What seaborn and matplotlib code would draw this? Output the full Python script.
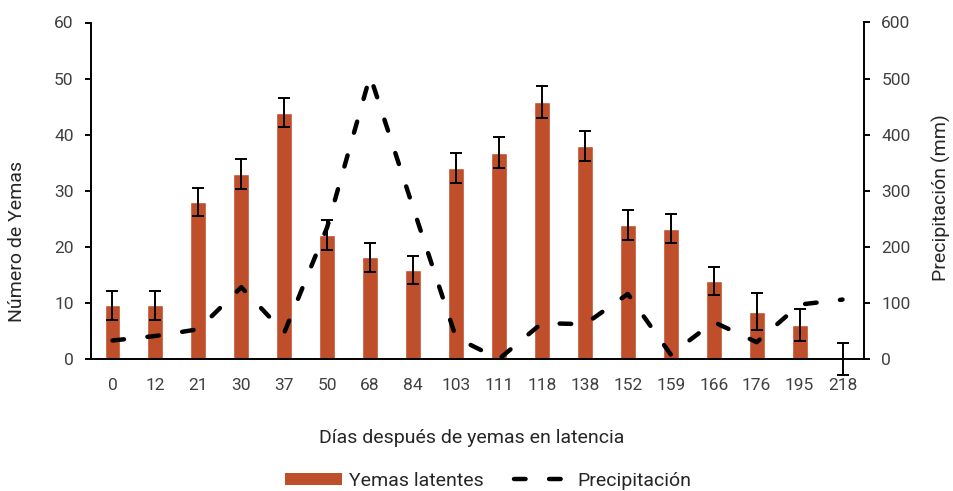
import numpy as np
import pandas as pd
import matplotlib
matplotlib.use("Agg")
import matplotlib.pyplot as plt
from matplotlib.patches import Patch
from matplotlib.lines import Line2D
import seaborn as sns

sns.set_style("white")
plt.rcParams['font.family'] = ['Roboto', 'DejaVu Sans']

# data
dias = ["0", "12", "21", "30", "37", "50", "68", "84", "103", "111",
        "118", "138", "152", "159", "166", "176", "195", "218"]
yemas = [9.6, 9.6, 28.0, 33.0, 43.9, 22.1, 18.1, 15.8, 34.1, 36.8,
         45.8, 38.0, 23.9, 23.2, 13.9, 8.4, 6.1, 0.0]
error = [2.6, 2.6, 2.5, 2.7, 2.6, 2.6, 2.5, 2.5, 2.7, 2.7,
         2.8, 2.7, 2.6, 2.6, 2.5, 3.3, 2.9, 2.8]
precip = [33, 41, 53, 128, 47, 235, 505, 270, 38, 0,
          64, 62, 116, 8, 66, 30, 97, 106]

bar_color = "#BF4F2A"
txt = "#262626"
tick_txt = "#404040"

df = pd.DataFrame({"dias": dias, "yemas": yemas, "error": error, "precip": precip})
df["pos"] = np.arange(len(df))

fig, ax = plt.subplots(figsize=(9.54, 4.91), dpi=100)
fig.subplots_adjust(left=91/954, right=864/954, top=1-22.5/491, bottom=1-359/491)

sns.barplot(data=df, x="dias", y="yemas", order=dias, color=bar_color,
            width=0.37, saturation=1, ax=ax)
eb = ax.errorbar(df["pos"], df["yemas"], yerr=df["error"], fmt="none",
                 ecolor="black", elinewidth=1.4, capsize=4.5, capthick=1.4, zorder=5)
for art in eb.lines[1] + eb.lines[2]:
    art.set_clip_on(False)

ax2 = ax.twinx()
sns.lineplot(data=df, x="pos", y="precip", color="black", linewidth=3.2, ax=ax2)
line = ax2.lines[0]
line.set_dashes([2.6, 5.3])
line.set_dash_capstyle("round")
line.set_solid_capstyle("round")

ax.set_xlim(-0.5, len(dias) - 0.5)
ax.set_ylim(0, 60)
ax2.set_ylim(0, 600)
ax.set_yticks(range(0, 61, 10))
ax2.set_yticks(range(0, 601, 100))

for a in (ax, ax2):
    for s in a.spines.values():
        s.set_visible(False)
ax.spines["left"].set_visible(True)
ax.spines["bottom"].set_visible(True)
ax2.spines["right"].set_visible(True)
for s in (ax.spines["left"], ax.spines["bottom"], ax2.spines["right"]):
    s.set_color("black")
    s.set_linewidth(1.4)
    s.set_zorder(6)

ax.tick_params(axis="x", length=0, pad=14, labelsize=12.5, labelcolor=tick_txt)
ax.tick_params(axis="y", direction="out", length=4.5, width=1.4, color="black",
               labelsize=12.5, labelcolor=tick_txt, pad=8, left=True)
ax2.tick_params(axis="y", direction="out", length=4.5, width=1.4, color="black",
                labelsize=12.5, labelcolor=tick_txt, pad=8, right=True)

ax.set_xlabel("Días después de yemas en latencia", fontsize=14, color=txt)
ax.set_ylabel("Número de Yemas", fontsize=14, color=txt)
ax2.set_ylabel("Precipitación (mm)", fontsize=14, color=txt)
for lab in (ax.xaxis.label, ax.yaxis.label, ax2.yaxis.label):
    lab.set_va("center")
    lab.set_ha("center")
ax.xaxis.set_label_coords(0.492, -0.235)
ax.yaxis.set_label_coords(-0.0956, 0.349)
ax2.yaxis.set_label_coords(1.1, 0.48)

handles = [
    Patch(facecolor=bar_color, edgecolor="none"),
    Line2D([0], [0], color="black", linewidth=3.2, dashes=[2.6, 5.3],
           dash_capstyle="round"),
]
fig.legend(handles, ["Yemas latentes", "Precipitación"], loc="center",
           bbox_to_anchor=(488.5/954, 1-481/491), ncol=2, frameon=False,
           prop={"size": 14, "weight": "normal"}, labelcolor=txt,
           handlelength=2.9, handleheight=0.6,
           handletextpad=0.35, columnspacing=1.6)

fig.savefig("out.png", dpi=100)
